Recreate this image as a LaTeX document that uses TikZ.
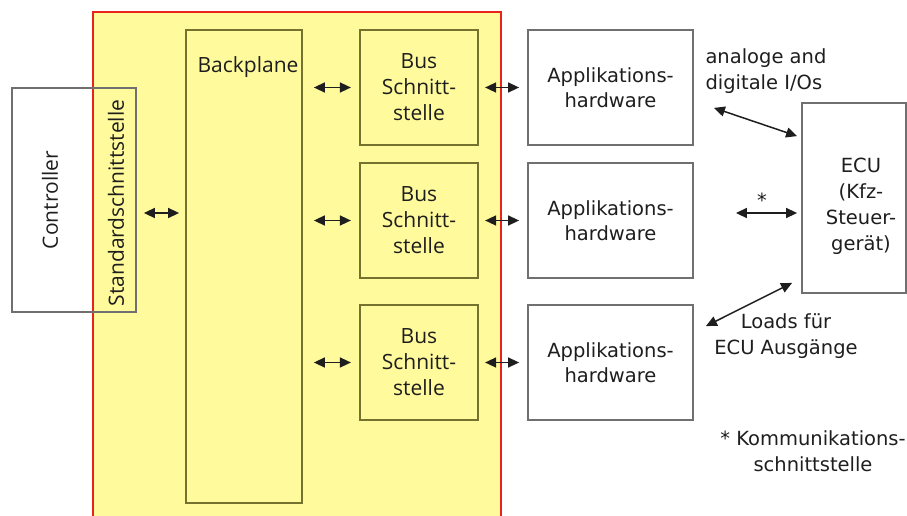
\documentclass[tikz,border=0pt]{standalone}
\usepackage{fontspec}
\setmainfont{DejaVu Sans}
\newfontfamily\leftfont{Open Sans}
\usetikzlibrary{arrows.meta, calc, positioning}
\definecolor{gelb}{HTML}{FFFA9C}
\definecolor{rot}{HTML}{E8231C}
\definecolor{oliv}{HTML}{75722F}
\definecolor{grau}{HTML}{707070}
\definecolor{schrift}{HTML}{1E1E1E}

\tikzset{
    biarrow/.style={line width=1.5pt, schrift, {Triangle[length=11pt,width=10pt]}-{Triangle[length=11pt,width=10pt]}},
    busbox/.style={draw=oliv, line width=2.2pt, minimum width=118pt, minimum height=115pt, align=center, text=schrift, font=\leftfont\fontsize{21}{26}\selectfont},
    appbox/.style={draw=grau, line width=1.8pt, minimum width=165pt, minimum height=115pt, align=center, text=schrift, font=\fontsize{19.5}{25}\selectfont},
    txt/.style={text=schrift, align=center, font=\fontsize{19.5}{26}\selectfont}
}

\begin{document}
\begin{tikzpicture}[x=1pt, y=-1pt]
                    \useasboundingbox (0,0) rectangle (907,516);
                    % Tester
                    \filldraw[fill=gelb, draw=rot, line width=2.2pt] (93,12) rectangle (501,517);
                    \node[draw=grau, line width=1.8pt, minimum width=124pt, minimum height=224pt] (ctrl) at (74,200) {};
                    \node[rotate=90, text=schrift, font=\leftfont\fontsize{21}{26}\selectfont] (ctrltext) at (50,200) {Controller};
                    \node[rotate=90, text=schrift, font=\leftfont\fontsize{21}{26}\selectfont] (std) at (116,203) {Standardschnittstelle};
                    \node[draw=oliv, line width=1.8pt, minimum width=116pt, minimum height=473pt,
                          label={[anchor=north, yshift=-24pt, xshift=4pt, text=schrift, font=\leftfont\fontsize{21}{26}\selectfont]north:Backplane}] (backplane) at (244,266.5) {};
                    \node[busbox] (bus1) at (419,87.5) {Bus\\Schnitt-\\stelle};
                    \node[busbox] (bus2) at (419,220.5) {Bus\\Schnitt-\\stelle};
                    \node[busbox] (bus3) at (419,362.5) {Bus\\Schnitt-\\stelle};
                    % Applikation und ECU
                    \node[appbox] (app1) at (610.5,87.5) {Applikations-\\hardware};
                    \node[appbox] (app2) at (610.5,220.5) {Applikations-\\hardware};
                    \node[appbox] (app3) at (610.5,362.5) {Applikations-\\hardware};
                    \node[draw=grau, line width=1.8pt, minimum width=104pt, minimum height=190pt] (ecu) at (854,198) {};
                    \node[txt] (ecutext) at (861,206) {ECU\\(Kfz-\\Steuer-\\gerät)};
                    % Pfeile
                    \draw[biarrow, shorten <=7pt, shorten >=6pt] ([yshift=-13pt]ctrl.east) -- ([yshift=-13pt]ctrl.east -| backplane.west);
                    \foreach \i in {1,2,3} {
                        \draw[biarrow, shorten <=11pt, shorten >=8pt] (bus\i.west -| backplane.east) -- (bus\i.west);
                        \draw[biarrow, shorten <=6pt, shorten >=8pt] (bus\i.east) -- (app\i.west);
                    }
                    \coordinate (io) at ([shift={(20,-38)}]app1.south east);
                    \coordinate (kom) at ([shift={(42,-7.5)}]app2.east);
                    \coordinate (loads) at ([shift={(12,22)}]app3.north east);
                    \draw[biarrow] (io) -- ([shift={(-4,34)}]ecu.north west);
                    \draw[biarrow] (kom) -- ([shift={(-4,15)}]ecu.west);
                    \draw[biarrow] (loads) -- ([shift={(-9,-11)}]ecu.south west);
                    \node[txt, align=left, anchor=west] (iotext) at (702,71) {analoge and\\digitale I/Os};
                    \node[txt] (stern) at (762,200) {*};
                    \node[txt] (loadstext) at (786,336) {Loads für\\ECU Ausgänge};
                    \node[txt] (komtext) at (813,451) {* Kommunikations-\\schnittstelle};
                \end{tikzpicture}
\end{document}
